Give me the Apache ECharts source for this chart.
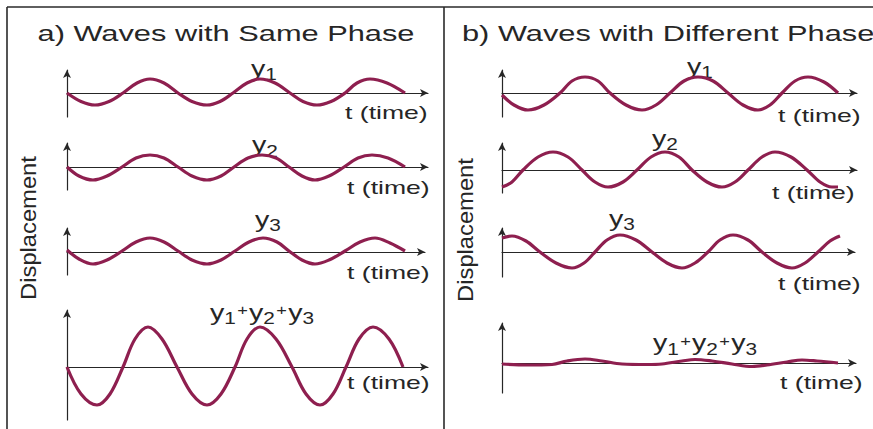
<!DOCTYPE html>
<html>
<head>
<meta charset="utf-8">
<script src="https://cdn.jsdelivr.net/npm/echarts/dist/echarts.min.js"></script>
<style>
html,body{margin:0;padding:0;background:#ffffff;}
#chart{width:873px;height:429px;}
</style>
</head>
<body>
<div id="chart"></div>
<script>
// ---------------- data ----------------
const panelTitles = ['a) Waves with Same Phase', 'b) Waves with Different Phase'];
const axisTitle = 'Displacement';
const timeLabel = 't (time)';
const waveLabels = ['y1', 'y2', 'y3', 'y1+y2+y3'];

// [time, displacement] samples, panel a (same phase)
const sameY1 = [[0,0],[14,-8.5],[28,-12],[42,-8.5],[56,0],[70,10],[83,14],[97,10],[111,0],[125,-8.5],[140,-12],[153,-8.5],[166,0],[180,10],[193,14],[208,10],[223,0],[236,-8.5],[250,-12],[264,-8.5],[278,0],[290,10],[303,14],[320,10],[338,0]];
const sameY2 = [[0,0],[12,-9],[26,-13],[40,-9],[55,0],[69,9],[83,12],[97,9],[111,0],[125,-9],[140,-13],[154,-9],[167,0],[181,9],[195,12],[209,9],[222,0],[235,-9],[248,-13],[262,-9],[277,0],[291,9],[305,12],[321,9],[338,0]];
const sameY3 = [[0,2],[12,-7],[26,-12],[40,-8],[55,1],[69,10],[83,14],[97,10],[111,1],[125,-8],[140,-12],[154,-8],[168,1],[182,10],[196,14],[210,10],[222,1],[235,-8],[248,-12],[262,-8],[278,1],[293,10],[308,14],[323,9],[338,1]];
const sameSum = [[0,0],[14,-27],[30,-38],[43,-27],[56,0],[68,28],[81,40],[95,28],[110,0],[125,-27],[140,-38],[154,-27],[168,0],[180,28],[193,40],[209,28],[225,0],[239,-27],[253,-38],[266,-27],[279,0],[292,28],[306,40],[322,28],[336,0]];

// panel b (different phase)
const diffY1 = [[0,-2],[12,-12],[26,-17],[42,-12],[58,0],[70,12],[83,16],[96,12],[108,0],[124,-12],[140,-17],[154,-12],[168,0],[182,12],[196,16],[211,12],[226,0],[241,-12],[256,-17],[268,-12],[280,0],[293,12],[306,16],[322,11],[336,0]];
const diffY2 = [[0,-17],[10,-12],[21,0],[36,13],[51,18],[66,13],[80,0],[93,-12],[106,-17],[121,-12],[135,0],[149,13],[163,18],[177,13],[190,0],[205,-12],[220,-17],[233,-12],[246,0],[260,13],[273,18],[289,13],[305,0],[318,-12],[330,-17],[336,-17]];
const diffY3 = [[0,14],[10,16],[24,11],[38,0],[54,-11],[70,-16],[82,-11],[93,0],[105,12],[118,17],[134,12],[150,0],[165,-11],[180,-16],[193,-11],[206,0],[218,12],[231,17],[246,12],[260,0],[275,-11],[290,-16],[303,-11],[316,0],[328,11],[338,16]];
const diffSum = [[0,-1],[25,-2],[50,-1.5],[65,2],[83,4],[100,2],[120,-1],[145,-1.5],[160,-1],[180,2],[193,3.5],[210,2],[230,-1],[250,-3.5],[265,-2],[285,1],[300,3],[315,2],[336,0]];

const waves = [sameY1, sameY2, sameY3, sameSum, diffY1, diffY2, diffY3, diffSum];

// ---------------- layout & style ----------------
const WAVE_COLOR = '#8e1f4f';
const INK = '#262626';
const FONT = '"Liberation Sans", Arial, sans-serif';

const cells = [
  {left:67,  top:70,  width:361, height:47,  min:-24, max:23},
  {left:67,  top:143, width:361, height:47,  min:-23, max:24},
  {left:67,  top:228, width:358, height:47,  min:-23, max:24},
  {left:67,  top:310, width:361, height:110, min:-53, max:57},
  {left:502, top:70,  width:355, height:47,  min:-24, max:23},
  {left:502, top:143, width:355, height:50,  min:-23, max:27},
  {left:502, top:228, width:353, height:49,  min:-25, max:24},
  {left:502, top:323, width:354, height:70,  min:-30, max:40}
];
const nameLabelPos = [[264,68],[265,144.5],[268,219],[262,312],[700,66],[665,138],[622,218],[705,342.5]];
const timeLabelPos = [[345,112],[347,187],[347,272],[347,382],[778,115],[772,192],[778,283],[780,382]];

// token styles for "y", subscript digit and small raised "+"
const tokenStyle = {
  y:   {size:22, dy:0},
  sub: {size:16, dy:6.6},
  plus:{size:14, dy:-2}
};
const measureCtx = document.createElement('canvas').getContext('2d');
function textWidth(s, size) {
  measureCtx.font = size + 'px ' + FONT;
  return measureCtx.measureText(s).width;
}
function nameGroup(label, x, y) {
  const toks = label.match(/y|\d|\+/g);
  const children = [];
  let cursor = 0;
  toks.forEach(function (t) {
    const kind = t === 'y' ? 'y' : (t === '+' ? 'plus' : 'sub');
    const ts = tokenStyle[kind];
    const w = textWidth(t, ts.size);
    const pad = kind === 'plus' ? 1 : 0;
    children.push({type:'text', x:cursor + pad, y:ts.dy, silent:true,
      style:{text:t, fontSize:ts.size, fontFamily:FONT, fill:INK,
             align:'left', verticalAlign:'middle', textAlign:'left', textVerticalAlign:'middle'}});
    cursor += w + 2 * pad;
  });
  children.forEach(function (c) { c.x -= cursor / 2; });
  return {type:'group', x:x, y:y, scaleX:1.3, silent:true, children:children};
}

const grids = [], xAxes = [], yAxes = [], series = [];
cells.forEach(function (c, i) {
  grids.push({left:c.left, top:c.top, width:c.width, height:c.height, containLabel:false, show:false});
  xAxes.push({
    type:'value', gridIndex:i, min:0, max:c.width,
    axisLine:{show:true, onZero:true, symbol:['none','arrow'], symbolSize:[6,8], lineStyle:{color:INK, width:1.2}},
    axisTick:{show:false}, axisLabel:{show:false}, splitLine:{show:false}
  });
  yAxes.push({
    type:'value', gridIndex:i, min:c.min, max:c.max,
    axisLine:{show:true, onZero:false, symbol:['none','arrow'], symbolSize:[6,8], lineStyle:{color:INK, width:1.2}},
    axisTick:{show:false}, axisLabel:{show:false}, splitLine:{show:false}
  });
  series.push({
    type:'line', xAxisIndex:i, yAxisIndex:i, data:waves[i],
    smooth:0.35, showSymbol:false, silent:true, clip:false,
    lineStyle:{color:WAVE_COLOR, width:3.2}
  });
});

function txt(x, y, text, opts) {
  const st = Object.assign({
    text:text, fontSize:19, fontFamily:FONT, fill:INK,
    align:'left', verticalAlign:'middle', textAlign:'left', textVerticalAlign:'middle'
  }, opts.style || {});
  const el = {type:'text', x:x, y:y, silent:true, style:st};
  if (opts.scaleX) el.scaleX = opts.scaleX;
  if (opts.rotation) el.rotation = opts.rotation;
  return el;
}

const graphics = [];
// frame
[[7,7,873,7],[7,7,7,429],[444,7,444,429]].forEach(function (l) {
  graphics.push({type:'line', silent:true, shape:{x1:l[0], y1:l[1], x2:l[2], y2:l[3]}, style:{stroke:'#2a2a2a', lineWidth:1.6}});
});
// panel titles
graphics.push(txt(226, 34, panelTitles[0], {scaleX:1.4, style:{fontSize:22, align:'center', textAlign:'center'}}));
graphics.push(txt(462, 34, panelTitles[1], {scaleX:1.4, style:{fontSize:22}}));
// vertical axis titles
graphics.push(txt(28, 228, axisTitle, {rotation:Math.PI/2, scaleX:1.08, style:{fontSize:22, align:'center', textAlign:'center'}}));
graphics.push(txt(465, 230, axisTitle, {rotation:Math.PI/2, scaleX:1.08, style:{fontSize:22, align:'center', textAlign:'center'}}));
// wave names and time labels
cells.forEach(function (c, i) {
  graphics.push(nameGroup(waveLabels[i % 4], nameLabelPos[i][0], nameLabelPos[i][1]));
  graphics.push(txt(timeLabelPos[i][0], timeLabelPos[i][1], timeLabel, {scaleX:1.4, style:{fontSize:19}}));
});

const chart = echarts.init(document.getElementById('chart'), null, {renderer:'svg', width:873, height:429});
chart.setOption({
  backgroundColor:'#ffffff',
  animation:false,
  grid:grids, xAxis:xAxes, yAxis:yAxes, series:series,
  graphic:{elements:graphics}
});
</script>
</body>
</html>
